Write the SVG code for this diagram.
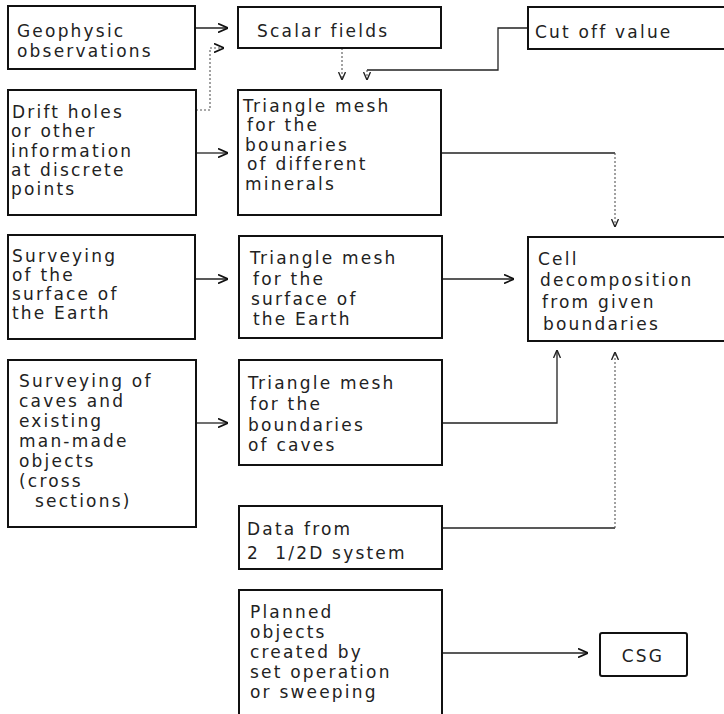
<svg xmlns="http://www.w3.org/2000/svg" width="724" height="714" viewBox="0 0 724 714">
<style>
.box{fill:#fff;stroke:#111;stroke-width:2}
.t{font-family:"DejaVu Sans","Liberation Sans",sans-serif;font-size:17px;letter-spacing:2.2px;fill:#222}
.c{fill:none;stroke:#222;stroke-width:1.3}
.d{fill:none;stroke:#555;stroke-width:1.1;stroke-dasharray:2 2}
</style>
<defs>
<marker id="arr" viewBox="0 0 10 10" refX="10" refY="5" markerWidth="10" markerHeight="10" markerUnits="userSpaceOnUse" orient="auto">
<path d="M0,0.5 L10,5 L0,9.5" fill="none" stroke="#111" stroke-width="1.6"/>
</marker>
<marker id="arrs" viewBox="0 0 8 8" refX="8" refY="4" markerWidth="8" markerHeight="8" markerUnits="userSpaceOnUse" orient="auto">
<path d="M0,0.5 L8,4 L0,7.5" fill="none" stroke="#222" stroke-width="1.4"/>
</marker>
</defs>
<rect width="724" height="714" fill="#fff"/>
<g id="connectors">
<path class="c" d="M195,28 H228" marker-end="url(#arr)"/>
<path class="d" d="M196,110 H210 V48 H224" marker-end="url(#arr)"/>
<path class="c" d="M196,153 H228" marker-end="url(#arr)"/>
<path class="d" d="M342,48 V80" marker-end="url(#arrs)"/>
<path class="c" d="M528,28 H498 V70 H367"/>
<path class="d" d="M367,70 V80" marker-end="url(#arrs)"/>
<path class="c" d="M441,153 H615"/>
<path class="d" d="M615,153 V227" marker-end="url(#arrs)"/>
<path class="c" d="M195,279 H228" marker-end="url(#arr)"/>
<path class="c" d="M442,279 H514" marker-end="url(#arr)"/>
<path class="c" d="M196,423 H228" marker-end="url(#arr)"/>
<path class="c" d="M442,423 H557 V350" marker-end="url(#arrs)"/>
<path class="c" d="M442,528 H615"/>
<path class="d" d="M615,528 V352" marker-end="url(#arrs)"/>
<path class="c" d="M442,653 H588" marker-end="url(#arr)"/>
</g>
<g id="geophysic">
<rect class="box" x="8" y="6" width="187" height="63"/>
<text class="t"><tspan x="17" y="37">Geophysic</tspan><tspan x="17" y="57">observations</tspan></text>
</g>
<g id="drift">
<rect class="box" x="8" y="90" width="188" height="125"/>
<text class="t"><tspan x="12" y="118">Drift holes</tspan><tspan x="11" y="137">or other</tspan><tspan x="11" y="157">information</tspan><tspan x="11" y="176">at discrete</tspan><tspan x="11" y="195">points</tspan></text>
</g>
<g id="surveying-surface">
<rect class="box" x="8" y="235" width="187" height="104"/>
<text class="t"><tspan x="12" y="262">Surveying</tspan><tspan x="12" y="281">of the</tspan><tspan x="12" y="300">surface of</tspan><tspan x="12" y="319">the Earth</tspan></text>
</g>
<g id="surveying-caves">
<rect class="box" x="8" y="360" width="188" height="167"/>
<text class="t"><tspan x="19" y="387">Surveying of</tspan><tspan x="19" y="407">caves and</tspan><tspan x="19" y="427">existing</tspan><tspan x="19" y="447">man-made</tspan><tspan x="19" y="467">objects</tspan><tspan x="19" y="487">(cross</tspan><tspan x="35" y="507">sections)</tspan></text>
</g>
<g id="scalar">
<rect class="box" x="238" y="7" width="203" height="41"/>
<text class="t" x="257" y="37">Scalar fields</text>
</g>
<g id="mesh-minerals">
<rect class="box" x="238" y="90" width="203" height="125"/>
<text class="t"><tspan x="243" y="112">Triangle mesh</tspan><tspan x="247" y="131">for the</tspan><tspan x="245" y="151">bounaries</tspan><tspan x="247" y="170">of different</tspan><tspan x="245" y="190">minerals</tspan></text>
</g>
<g id="mesh-surface">
<rect class="box" x="239" y="236" width="203" height="102"/>
<text class="t"><tspan x="250" y="264">Triangle mesh</tspan><tspan x="253" y="285">for the</tspan><tspan x="251" y="305">surface of</tspan><tspan x="253" y="325">the Earth</tspan></text>
</g>
<g id="mesh-caves">
<rect class="box" x="239" y="360" width="203" height="105"/>
<text class="t"><tspan x="248" y="389">Triangle mesh</tspan><tspan x="250" y="410">for the</tspan><tspan x="248" y="431">boundaries</tspan><tspan x="248" y="451">of caves</tspan></text>
</g>
<g id="data">
<rect class="box" x="239" y="506" width="203" height="63"/>
<text class="t"><tspan x="247" y="535">Data from</tspan><tspan x="247" y="559" xml:space="preserve">2  1/2D system</tspan></text>
</g>
<g id="planned">
<rect class="box" x="239" y="590" width="203" height="140"/>
<text class="t"><tspan x="250" y="618">Planned</tspan><tspan x="250" y="638">objects</tspan><tspan x="250" y="658">created by</tspan><tspan x="250" y="678">set operation</tspan><tspan x="250" y="698">or sweeping</tspan></text>
</g>
<g id="cutoff">
<rect class="box" x="528" y="7" width="210" height="42"/>
<text class="t" x="535" y="38">Cut off value</text>
</g>
<g id="cell">
<rect class="box" x="528" y="237" width="210" height="104"/>
<text class="t"><tspan x="538" y="265">Cell</tspan><tspan x="540" y="286">decomposition</tspan><tspan x="542" y="308">from given</tspan><tspan x="543" y="330">boundaries</tspan></text>
</g>
<g id="csg">
<rect class="box" x="600" y="633" width="87" height="43" rx="2"/>
<text class="t" x="643" y="662" text-anchor="middle" letter-spacing="3">CSG</text>
</g>
</svg>
